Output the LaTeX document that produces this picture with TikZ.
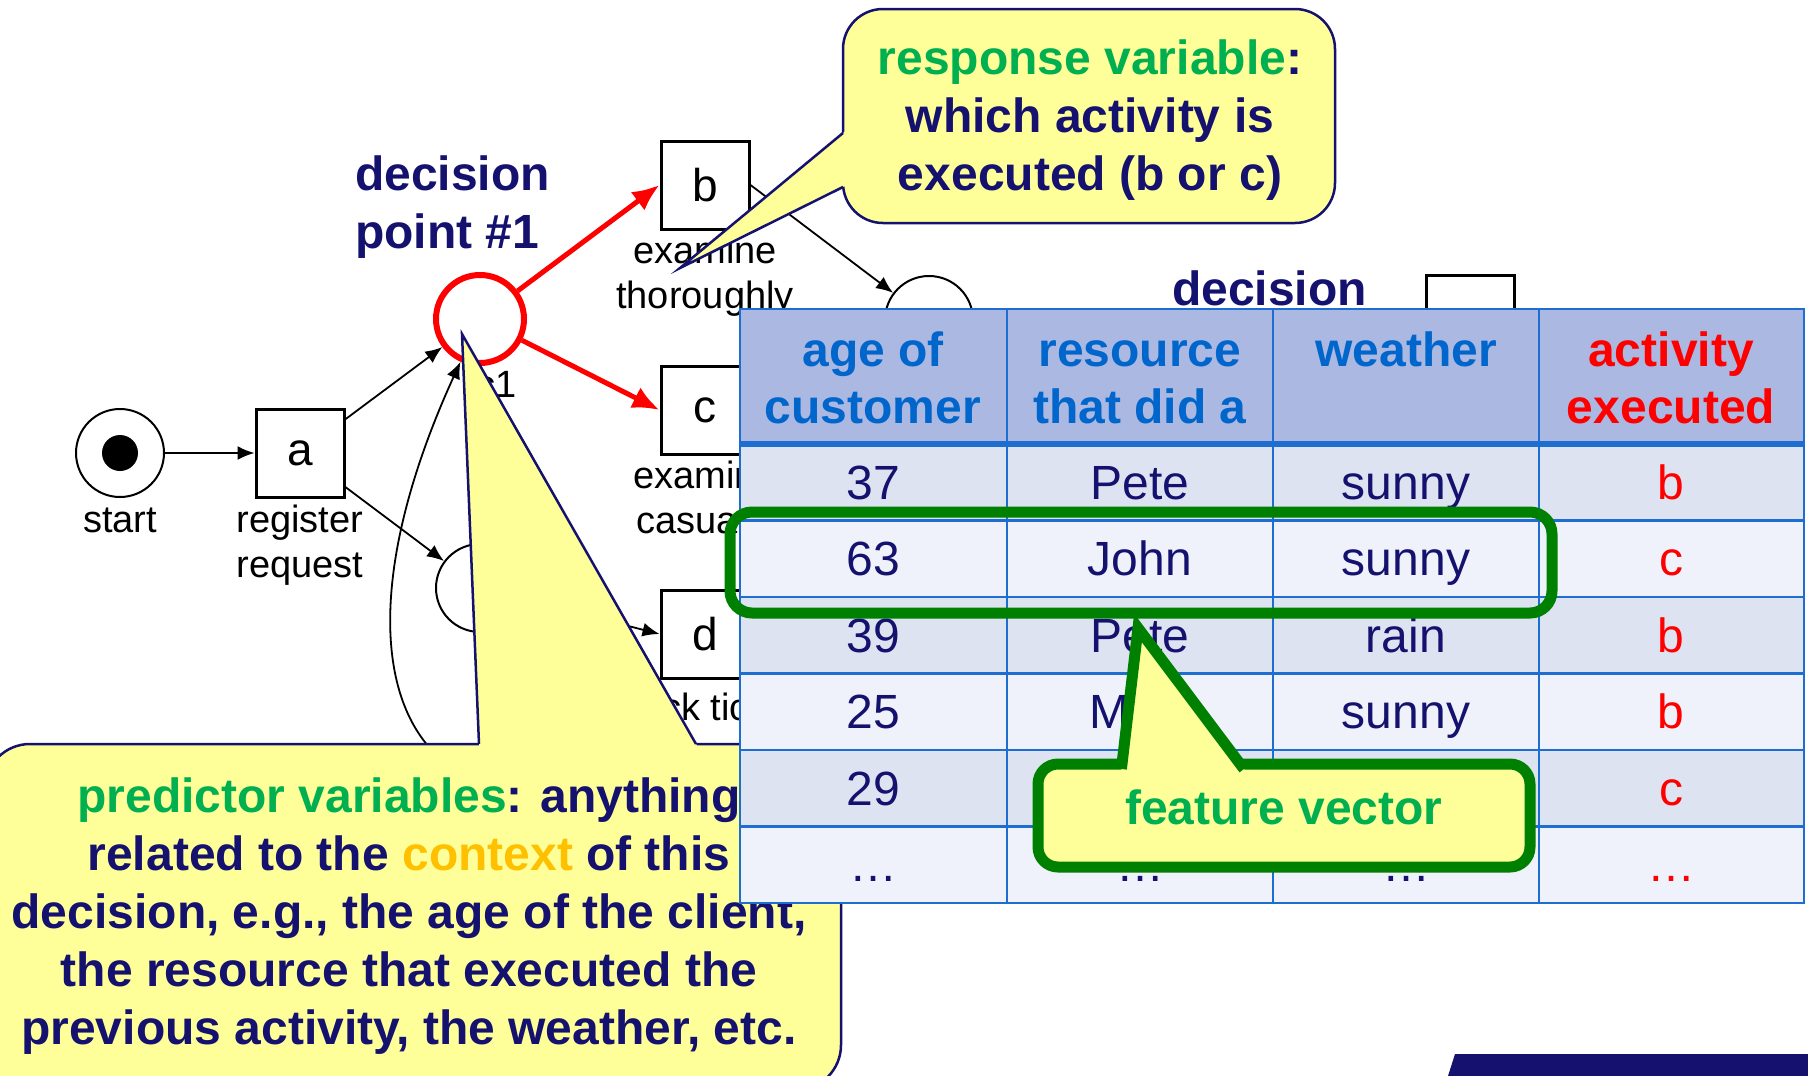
\documentclass[tikz,border=0pt]{standalone}
\usepackage{fontspec}
\setmainfont{Liberation Sans}
\usetikzlibrary{arrows.meta, positioning}

\definecolor{navy}{RGB}{20,18,110}
\definecolor{calyellow}{RGB}{255,255,153}
\definecolor{okgreen}{RGB}{0,176,80}
\definecolor{boxgreen}{RGB}{0,128,0}
\definecolor{ctxorange}{RGB}{255,192,0}
\definecolor{tabline}{RGB}{30,110,210}
\definecolor{tabhead}{RGB}{0,102,204}
\definecolor{headfill}{RGB}{170,184,226}
\definecolor{rowdark}{RGB}{222,227,242}
\definecolor{rowlight}{RGB}{239,242,250}

\begin{document}
\begin{tikzpicture}[x=1pt, y=-1pt,
    place/.style={circle, draw, line width=2pt, minimum size=88pt, inner sep=0pt},
    trans/.style={draw, line width=3pt, minimum size=88pt, inner sep=0pt, font=\fontsize{46}{50}\selectfont},
    lbl/.style={inner sep=0pt, align=center, font=\fontsize{38}{45}\selectfont},
    flow/.style={-{Latex[length=17pt,width=14pt]}, line width=1.8pt},
    redflow/.style={-{Latex[length=27pt,width=23pt]}, line width=5pt, red},
    bigtxt/.style={inner sep=0pt, text=navy, font=\fontsize{48}{58}\selectfont\bfseries},
    bubble/.style={fill=calyellow, draw=navy, line width=2.5pt},
    headtxt/.style={inner sep=0pt, align=center, text=tabhead, font=\fontsize{48}{57}\selectfont\bfseries},
    celltxt/.style={inner sep=0pt, anchor=base, text=navy, font=\fontsize{48}{57}\selectfont},
]
  \useasboundingbox (0,0) rectangle (1808,1076);

  \node[place] (start) at (120,453) {};
  \node[circle, fill, minimum size=36pt, inner sep=0pt] (token) at (start) {};
  \node[trans] (a) at (300,453) {a};
  \node[place, draw=red, line width=6pt] (c1) at (480,319) {};
  \node[place] (c2) at (480,588) {};
  \node[trans] (b) at (705,185) {b};
  \node[trans] (c) at (705,410) {c};
  \node[trans] (d) at (705,634) {d};
  \node[place] (c3) at (929,320) {};
  \node[trans] (e) at (1470,319) {};

  \node[lbl, anchor=base] (startlbl) at (120,532) {start};
  \node[lbl, anchor=north] (albl) at (300,505) {register\\request};
  \node[lbl, anchor=base] (c1lbl) at (497,397) {c1};
  \node[lbl, anchor=north] (blbl) at (705,236) {examine\\thoroughly};
  \node[lbl, anchor=north] (clbl) at (705,461) {examine\\casually};
  \node[lbl, anchor=base] (dlbl) at (700,720) {check ticket};

  \draw[flow] (start) -- (a);
  \draw[flow] (a) -- (c1);
  \draw[flow] (a) -- (c2);
  \draw[redflow] (c1) -- (b.west);
  \draw[redflow] (c1) -- (c.west);
  \draw[flow] (b.east) -- (c3);
  \draw[flow] (c2) -- (d.west);
  \coordinate (loopin) at (442,760);
  \draw[flow] (loopin) .. controls (372,700) and (370,560) .. (c1);

  \node[bigtxt, anchor=north west, align=left] (dp1) at (355,156) {decision\\point \#1};
  \node[bigtxt, anchor=base west] (dp2) at (1172,305) {decision};

  \coordinate (predtip) at (462,334);
  \draw[bubble, rounded corners=45pt] (-15,744) rectangle (841,1090);
  \fill[calyellow] (479.2,749) -- (predtip) -- (698.9,749) -- cycle;
  \draw[navy, line width=2.5pt] (479,744) -- (predtip) -- (696,744);
  \node[bigtxt, align=center, anchor=north] (predtxt) at (409,778) {\textcolor{okgreen}{predictor variables}: anything\\related to the \textcolor{ctxorange}{context} of this\\decision, e.g., the age of the client,\\the resource that executed the\\previous activity, the weather, etc.};

  \coordinate (resptip) at (680,268);
  \draw[bubble, rounded corners=40pt] (843,9) rectangle (1335,223);
  \fill[calyellow] (848,129) -- (resptip) -- (848,184.5) -- cycle;
  \draw[navy, line width=2.5pt] (843,133) -- (resptip) -- (843,187);
  \node[bigtxt, align=center, anchor=north] (resptxt) at (1090,40) {\textcolor{okgreen}{response variable}:\\which activity is\\executed (b or c)};

  \fill[headfill] (740,309) rectangle (1804,444);
  \foreach \k/\col in {0/rowdark,1/rowlight,2/rowdark,3/rowlight,4/rowdark,5/rowlight}
    \fill[\col] (740,{444+76.5*\k}) rectangle (1804,{520.5+76.5*\k});
  \foreach \x in {1007,1273,1539}
    \draw[tabline, line width=2.5pt] (\x,309) -- (\x,903);
  \foreach \k in {1,...,5}
    \draw[tabline, line width=2.5pt] (740,{444+76.5*\k}) -- (1804,{444+76.5*\k});
  \draw[tabline, line width=6pt] (740,444) -- (1804,444);
  \draw[tabline, line width=2.5pt] (740,309) rectangle (1804,903);

  \node[headtxt, anchor=north] (h1) at (873,332) {\vphantom{fh}age of\\customer};
  \node[headtxt, anchor=north] (h2) at (1140,332) {\vphantom{fh}resource\\that did a};
  \node[headtxt, anchor=north] (h3) at (1406,332) {\vphantom{fh}weather};
  \node[headtxt, anchor=north, text=red] (h4) at (1671,332) {\vphantom{fh}activity\\executed};

  \foreach \k/\age/\who/\sky/\act in {1/37/Pete/sunny/b, 2/63/John/sunny/c, 3/39/Pete/rain/b, 4/25/Mike/sunny/b, 5/29/{}/{}/c, 6/\dots/\dots/\dots/\dots} {
    \node[celltxt] (age\k) at (873,{444+76.5*\k-21.25}) {\age};
    \node[celltxt] (who\k) at (1140,{444+76.5*\k-21.25}) {\who};
    \node[celltxt] (sky\k) at (1406,{444+76.5*\k-21.25}) {\sky};
    \node[celltxt, text=red] (act\k) at (1671,{444+76.5*\k-21.25}) {\act};
  }

  \node[draw=boxgreen, line width=11pt, rounded corners=22pt, minimum width=822pt, minimum height=101pt, inner sep=0pt] (fvrow) at (1141,562.5) {};

  \coordinate (fvtip) at (1138,628);
  \draw[fill=calyellow, draw=boxgreen, line width=11pt, rounded corners=20pt] (1038,764) rectangle (1530,867);
  \fill[calyellow] (1121.2,771) -- (fvtip) -- (1245.4,771) -- cycle;
  \draw[boxgreen, line width=11pt, line join=miter] (1121.4,769) -- (fvtip) -- (1243.9,769);
  \node[inner sep=0pt, anchor=base, text=okgreen, font=\fontsize{48}{58}\selectfont\bfseries] (fvtxt) at (1284,824) {feature vector};

  \fill[navy] (1448,1076) -- (1455,1054) -- (1808,1054) -- (1808,1076) -- cycle;
\end{tikzpicture}
\end{document}
